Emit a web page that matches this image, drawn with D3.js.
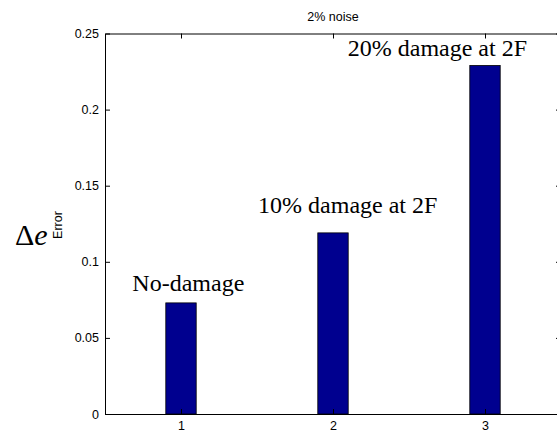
<!DOCTYPE html>
<html>
<head>
<meta charset="utf-8">
<script src="https://cdn.jsdelivr.net/npm/d3@7"></script>
<style>
  html, body { margin: 0; padding: 0; background: #fff; }
  svg { display: block; }
</style>
</head>
<body>
<svg id="chart" width="557" height="434"></svg>
<script>
// Error index per damage case
const categories = [1, 2, 3];
const errorValues = [0.073, 0.119, 0.229];
const caseLabels = ["No-damage", "10% damage at 2F", "20% damage at 2F"];
// Annotation anchors in data units (x, y of text baseline start)
const labelX = [0.68, 1.507, 2.097];
const labelY = [0.0808, 0.132, 0.235];
const yTicks = [0, 0.05, 0.1, 0.15, 0.2, 0.25];
const yTickLabels = ["0", "0.05", "0.1", "0.15", "0.2", "0.25"];
const titleText = "2% noise";

const svg = d3.select("#chart");
const plotLeft = 105, plotRight = 561, plotTop = 33.5, plotBottom = 414;
const x = d3.scaleLinear().domain([0.5, 3.5]).range([plotLeft, plotRight]);
const y = d3.scaleLinear().domain([0, 0.25]).range([plotBottom, plotTop]);
const barW = x(1.1) - x(0.9);
const tickLen = 5;
const sans = "Liberation Sans, Arial, sans-serif";
const serif = "Liberation Serif, Times New Roman, serif";

// Bars
svg.append("g").selectAll("rect")
  .data(categories)
  .join("rect")
  .attr("x", (d) => x(d) - barW / 2)
  .attr("y", (d, i) => y(errorValues[i]))
  .attr("width", barW)
  .attr("height", (d, i) => y(0) - y(errorValues[i]))
  .attr("fill", "#00008f")
  .attr("stroke", "#000")
  .attr("stroke-width", 0.8);

// Axes: left and bottom with labels, top and right as plain frame with inward ticks
const axisLeft = d3.axisLeft(y).tickValues(yTicks)
  .tickFormat((d, i) => yTickLabels[i]).tickSizeInner(-tickLen).tickSizeOuter(0).tickPadding(6);
const axisBottom = d3.axisBottom(x).tickValues(categories)
  .tickFormat(d3.format("d")).tickSizeInner(-tickLen).tickSizeOuter(0).tickPadding(7);
const axisTop = d3.axisTop(x).tickValues(categories)
  .tickFormat("").tickSizeInner(-tickLen).tickSizeOuter(0);
const axisRight = d3.axisRight(y).tickValues(yTicks)
  .tickFormat("").tickSizeInner(-tickLen).tickSizeOuter(0);

function style(g) {
  g.selectAll("path").attr("stroke", "#000").attr("stroke-width", 1);
  g.selectAll("line").attr("stroke", "#000").attr("stroke-width", 1);
  g.selectAll("text").attr("fill", "#000").style("font-family", sans).style("font-size", "12.5px");
}

svg.append("g").attr("transform", `translate(${plotLeft},0)`).call(axisLeft).call(style);
svg.append("g").attr("transform", `translate(0,${plotBottom})`).call(axisBottom).call(style);
svg.append("g").attr("transform", `translate(0,${plotTop})`).call(axisTop).call(style);
svg.append("g").attr("transform", `translate(${plotRight},0)`).call(axisRight).call(style);

// Case annotations
svg.append("g").selectAll("text")
  .data(caseLabels)
  .join("text")
  .attr("x", (d, i) => x(labelX[i]))
  .attr("y", (d, i) => y(labelY[i]))
  .attr("font-family", serif)
  .attr("font-size", 24)
  .attr("fill", "#000")
  .text((d) => d);

// Title
svg.append("text")
  .attr("x", (plotLeft + plotRight) / 2)
  .attr("y", 21)
  .attr("text-anchor", "middle")
  .attr("font-family", sans)
  .attr("font-size", 12.5)
  .text(titleText);

// Y label: Δe with rotated "Error" subscript
const yl = svg.append("text")
  .attr("x", 15)
  .attr("y", 245)
  .attr("font-family", serif)
  .attr("font-size", 30);
yl.append("tspan").text("Δ");
yl.append("tspan").attr("font-style", "italic").text("e");

svg.append("text")
  .attr("transform", "translate(62,225) rotate(-90)")
  .attr("text-anchor", "middle")
  .attr("font-family", sans)
  .attr("font-size", 12.5)
  .text("Error");
</script>
</body>
</html>
